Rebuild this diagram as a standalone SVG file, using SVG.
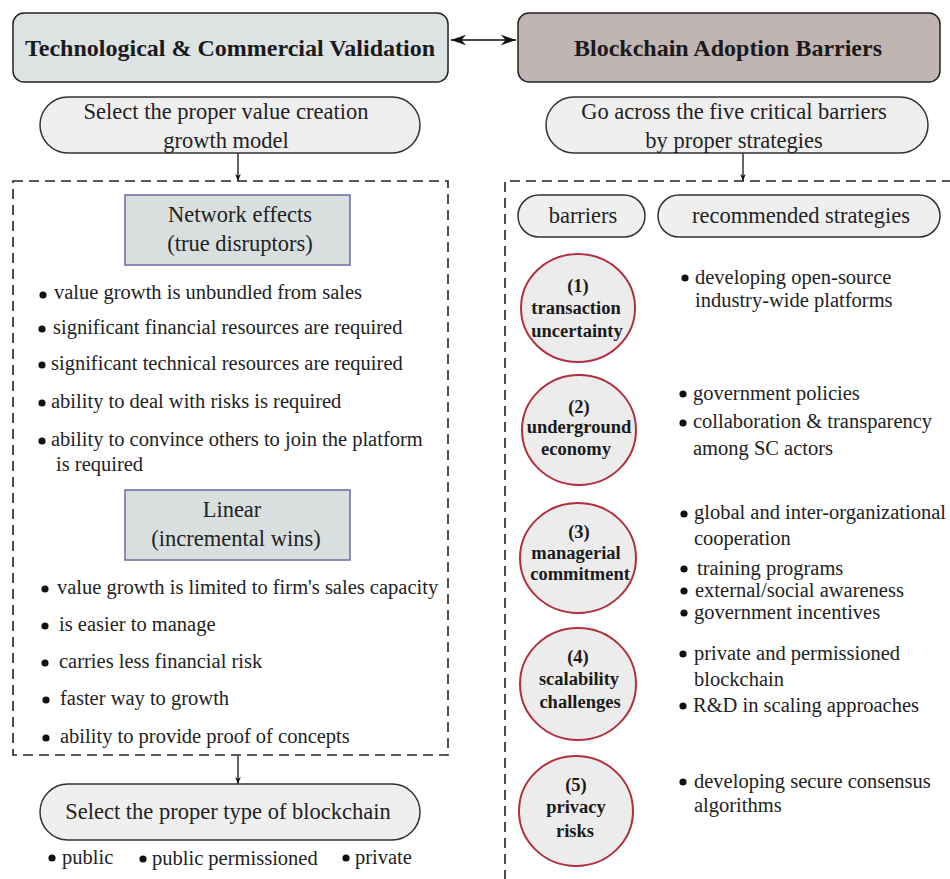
<svg xmlns="http://www.w3.org/2000/svg" width="950" height="879" viewBox="0 0 950 879">
<defs>
<marker id="ah" viewBox="0 0 10 10" refX="10" refY="5" markerWidth="7" markerHeight="7" orient="auto-start-reverse" markerUnits="userSpaceOnUse"><path d="M0,1 L10,5 L0,9 L3,5 z" fill="#111"/></marker>
<marker id="ahs" viewBox="0 0 10 10" refX="10" refY="5" markerWidth="15" markerHeight="15" orient="auto-start-reverse" markerUnits="userSpaceOnUse"><path d="M0,1.5 L10,5 L0,8.5 L3,5 z" fill="#111"/></marker>
</defs>
<style>
text{font-family:"Liberation Serif","Times New Roman",serif;fill:#222;}
.t{font-size:20.5px;}
.h{font-size:24px;font-weight:bold;text-anchor:middle;fill:#1a1a1a;}
.c{text-anchor:middle;font-size:22.5px;}
.b{font-size:18.5px;font-weight:bold;text-anchor:middle;fill:#1a1a1a;}
.pill{fill:#efefef;stroke:#333;stroke-width:1.5;}
.sq{fill:#d9dfdf;stroke:#6b6ba8;stroke-width:1.5;}
.circ{fill:#ececec;stroke:#b0303e;stroke-width:2;}
.dash{fill:none;stroke:#222;stroke-width:1.6;stroke-dasharray:10,6;}
.ln{stroke:#111;stroke-width:1.3;fill:none;}
.dot{fill:#111;}
</style>
<g id="connectors">
<line class="ln" x1="451" y1="40" x2="516" y2="40" marker-start="url(#ahs)" marker-end="url(#ahs)"/>
<line class="ln" x1="238" y1="153" x2="238" y2="181" marker-end="url(#ah)"/>
<line class="ln" x1="743" y1="153" x2="743" y2="181" marker-end="url(#ah)"/>
<line class="ln" x1="238" y1="756" x2="238" y2="784" marker-end="url(#ah)"/>
</g>
<g id="tcv">
<rect x="13" y="13" width="435" height="69" rx="11" fill="#dde3e3" stroke="#222" stroke-width="1.5"/>
<text class="h" x="230" y="56">Technological &amp; Commercial Validation</text>
</g>
<g id="bab">
<rect x="518" y="13" width="422" height="69" rx="11" fill="#c1b5b4" stroke="#222" stroke-width="1.5"/>
<text class="h" x="728" y="56">Blockchain Adoption Barriers</text>
</g>
<g id="select-model">
<rect class="pill" x="40" y="97" width="380" height="56" rx="28"/>
<text class="c" x="226" y="119">Select the proper value creation</text>
<text class="c" x="226" y="148">growth model</text>
</g>
<g id="go-across">
<rect class="pill" x="546" y="97" width="382" height="56" rx="28"/>
<text class="c" x="734" y="119">Go across the five critical barriers</text>
<text class="c" x="734" y="148">by proper strategies</text>
</g>
<g id="left-panel">
<rect class="dash" x="13" y="181" width="435" height="574"/>
</g>
<g id="right-panel">
<path class="dash" d="M952,181 H505 V879"/>
</g>
<g id="network-effects">
<rect class="sq" x="125" y="195" width="225" height="70"/>
<text class="c" x="240" y="222">Network effects</text>
<text class="c" x="240" y="251">(true disruptors)</text>
</g>
<g id="ne-list">
<circle class="dot" cx="43" cy="295" r="3.6"/><text class="t" x="54" y="299">value growth is unbundled from sales</text>
<circle class="dot" cx="42" cy="329" r="3.6"/><text class="t" x="53" y="334">significant financial resources are required</text>
<circle class="dot" cx="42" cy="365" r="3.6"/><text class="t" x="51" y="370">significant technical resources are required</text>
<circle class="dot" cx="42" cy="403" r="3.6"/><text class="t" x="51" y="408">ability to deal with risks is required</text>
<circle class="dot" cx="42" cy="441" r="3.6"/><text class="t" x="51" y="446">ability to convince others to join the platform</text>
<text class="t" x="56" y="471">is required</text>
</g>
<g id="linear">
<rect class="sq" x="125" y="490" width="225" height="70"/>
<text class="c" x="232" y="517">Linear</text>
<text class="c" x="236" y="546">(incremental wins)</text>
</g>
<g id="lin-list">
<circle class="dot" cx="45" cy="589" r="3.6"/><text class="t" x="57" y="594">value growth is limited to firm's sales capacity</text>
<circle class="dot" cx="45" cy="626" r="3.6"/><text class="t" x="59" y="631">is easier to manage</text>
<circle class="dot" cx="45" cy="663" r="3.6"/><text class="t" x="59" y="668">carries less financial risk</text>
<circle class="dot" cx="46" cy="700" r="3.6"/><text class="t" x="60" y="705">faster way to growth</text>
<circle class="dot" cx="46" cy="738" r="3.6"/><text class="t" x="60" y="743">ability to provide proof of concepts</text>
</g>
<g id="select-type">
<rect class="pill" x="40" y="784" width="380" height="56" rx="28"/>
<text class="c" x="228" y="819">Select the proper type of blockchain</text>
</g>
<g id="types">
<circle class="dot" cx="52" cy="858" r="3.6"/><text class="t" x="62" y="864">public</text>
<circle class="dot" cx="143" cy="859" r="3.6"/><text class="t" x="152" y="865">public permissioned</text>
<circle class="dot" cx="346" cy="858" r="3.6"/><text class="t" x="355" y="864">private</text>
</g>
<g id="barriers-head">
<rect class="pill" x="518" y="195" width="127" height="42" rx="21"/>
<text class="c" x="583" y="223">barriers</text>
</g>
<g id="strategies-head">
<rect class="pill" x="658" y="195" width="282" height="42" rx="21"/>
<text class="c" x="801" y="223">recommended strategies</text>
</g>
<g id="b1">
<ellipse class="circ" cx="578" cy="308" rx="57" ry="54"/>
<text class="b" x="578" y="292">(1)</text>
<text class="b" x="576" y="314">transaction</text>
<text class="b" x="577" y="337">uncertainty</text>
</g>
<g id="s1">
<circle class="dot" cx="685" cy="278" r="3.6"/><text class="t" x="695" y="284">developing open-source</text>
<text class="t" x="695" y="307">industry-wide platforms</text>
</g>
<g id="b2">
<ellipse class="circ" cx="579" cy="430" rx="57" ry="55"/>
<text class="b" x="579" y="413">(2)</text>
<text class="b" x="579" y="433">underground</text>
<text class="b" x="576" y="455">economy</text>
</g>
<g id="s2">
<circle class="dot" cx="683" cy="394" r="3.6"/><text class="t" x="693" y="400">government policies</text>
<circle class="dot" cx="683" cy="423" r="3.6"/><text class="t" x="693" y="428">collaboration &amp; transparency</text>
<text class="t" x="693" y="455">among SC actors</text>
</g>
<g id="b3">
<ellipse class="circ" cx="578" cy="558" rx="58" ry="55"/>
<text class="b" x="579" y="538">(3)</text>
<text class="b" x="576" y="559">managerial</text>
<text class="b" x="580" y="580">commitment</text>
</g>
<g id="s3">
<circle class="dot" cx="684" cy="514" r="3.6"/><text class="t" x="694" y="519">global and inter-organizational</text>
<text class="t" x="694" y="545">cooperation</text>
<circle class="dot" cx="684" cy="569" r="3.6"/><text class="t" x="697" y="575">training programs</text>
<circle class="dot" cx="684" cy="591" r="3.6"/><text class="t" x="695" y="597">external/social awareness</text>
<circle class="dot" cx="684" cy="613" r="3.6"/><text class="t" x="694" y="619">government incentives</text>
</g>
<g id="b4">
<ellipse class="circ" cx="578" cy="684" rx="58" ry="56"/>
<text class="b" x="578" y="663">(4)</text>
<text class="b" x="579" y="685">scalability</text>
<text class="b" x="580" y="708">challenges</text>
</g>
<g id="s4">
<circle class="dot" cx="683" cy="654" r="3.6"/><text class="t" x="694" y="660">private and permissioned</text>
<text class="t" x="694" y="686">blockchain</text>
<circle class="dot" cx="683" cy="706" r="3.6"/><text class="t" x="693" y="712">R&amp;D in scaling approaches</text>
</g>
<g id="b5">
<ellipse class="circ" cx="576" cy="811" rx="57" ry="55"/>
<text class="b" x="576" y="791">(5)</text>
<text class="b" x="576" y="813">privacy</text>
<text class="b" x="575" y="837">risks</text>
</g>
<g id="s5">
<circle class="dot" cx="683" cy="782" r="3.6"/><text class="t" x="694" y="788">developing secure consensus</text>
<text class="t" x="694" y="812">algorithms</text>
</g>
</svg>
